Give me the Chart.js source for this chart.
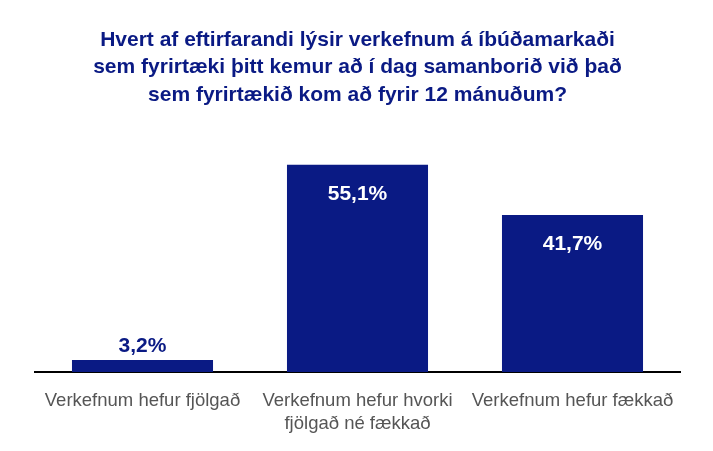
<!DOCTYPE html>
<html>
<head>
<meta charset="utf-8">
<script src="https://cdn.jsdelivr.net/npm/chart.js@4"></script>
<style>
  body { margin: 0; background: #fff; }
  #wrap { width: 713px; height: 451px; }
</style>
</head>
<body>
<div id="wrap"><canvas id="chart"></canvas></div>
<script>
// Gögn
const flokkar = [
  "Verkefnum hefur fjölgað",
  ["Verkefnum hefur hvorki", "fjölgað né fækkað"],
  "Verkefnum hefur fækkað"
];
const hlutfall = [3.2, 55.1, 41.7];
const titill = [
  "Hvert af eftirfarandi lýsir verkefnum á íbúðamarkaði",
  "sem fyrirtæki þitt kemur að í dag samanborið við það",
  "sem fyrirtækið kom að fyrir 12 mánuðum?"
];

const navy = "#0a1a84";

// Gildi á súlum
const gildiPlugin = {
  id: "gildi",
  afterDatasetsDraw(chart) {
    const ctx = chart.ctx;
    const meta = chart.getDatasetMeta(0);
    ctx.save();
    ctx.textAlign = "center";
    ctx.textBaseline = "middle";
    ctx.font = "bold 21px 'Liberation Sans', Arial, sans-serif";
    meta.data.forEach((bar, i) => {
      const txt = hlutfall[i].toFixed(1).replace(".", ",") + "%";
      if (hlutfall[i] > 10) {
        ctx.fillStyle = "#ffffff";
        ctx.fillText(txt, bar.x, bar.y + 29);
      } else {
        ctx.fillStyle = navy;
        ctx.fillText(txt, bar.x, bar.y - 14);
      }
    });
    ctx.restore();
  }
};

new Chart(document.getElementById("chart"), {
  type: "bar",
  data: {
    labels: flokkar,
    datasets: [{
      data: hlutfall,
      backgroundColor: navy,
      categoryPercentage: 1,
      barPercentage: 0.656
    }]
  },
  options: {
    responsive: true,
    maintainAspectRatio: false,
    animation: false,
    layout: { padding: { left: 35, right: 33, top: 0, bottom: 0 } },
    plugins: {
      legend: { display: false },
      tooltip: { enabled: false },
      title: {
        display: true,
        text: titill,
        color: navy,
        font: { family: "'Liberation Sans', Arial, sans-serif", size: 21, weight: "bold", lineHeight: 1.29 },
        padding: { top: 27, bottom: 38 }
      }
    },
    scales: {
      y: {
        display: false,
        min: 0,
        max: 60
      },
      x: {
        grid: { display: false, drawTicks: false },
        border: { display: true, color: "#000", width: 2 },
        afterFit(scale) { scale.height = 79; },
        ticks: {
          color: "#555",
          padding: 17,
          font: { family: "'Liberation Sans', Arial, sans-serif", size: 18.5, lineHeight: 1.26 }
        }
      }
    }
  },
  plugins: [gildiPlugin]
});
</script>
</body>
</html>
